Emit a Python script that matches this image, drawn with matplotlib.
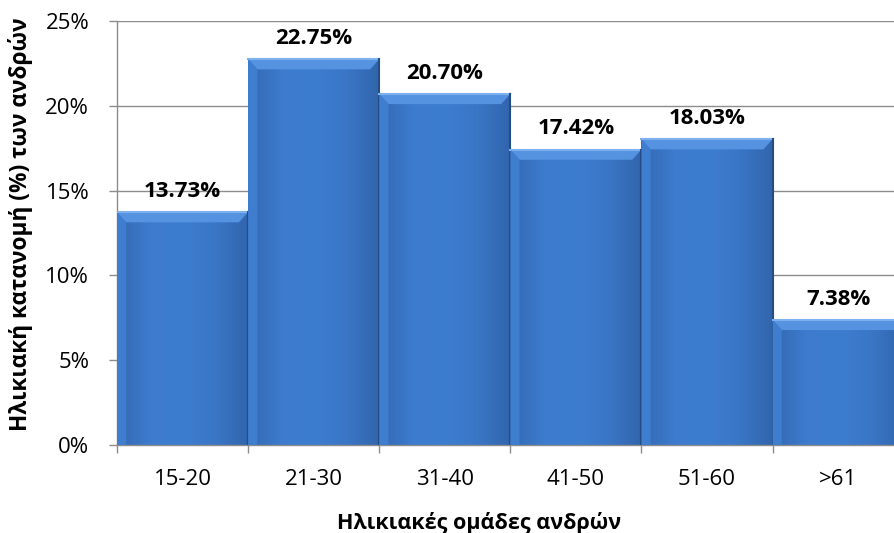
import numpy as np
import matplotlib
matplotlib.use("Agg")
import matplotlib.pyplot as plt
from matplotlib.patches import Polygon
from matplotlib.colors import LinearSegmentedColormap

groups = ["15-20", "21-30", "31-40", "41-50", "51-60", ">61"]
shares = [13.73, 22.75, 20.70, 17.42, 18.03, 7.38]
yticks = [0, 5, 10, 15, 20, 25]

plt.rcParams["font.family"] = ["Open Sans", "Liberation Sans", "DejaVu Sans"]
GRID = "#8c8c8c"

fig = plt.figure(figsize=(8.95, 5.33), dpi=100)
ax = fig.add_axes([0.1307, 0.165, 0.879, 0.7956])

x = np.arange(len(groups))
bars = ax.bar(x, shares, width=1.0, color="#3a77c8", edgecolor="none", zorder=2)

# soft shading across each bar, light bevel on top, dark seam on sides
shade = LinearSegmentedColormap.from_list("shade", ["#3469b3", "#3c7bcd", "#3d7dd0", "#3a76c6", "#3265ad"])
grad = np.linspace(0, 1, 100).reshape(1, -1)
for b in bars:
    x0, w, h = b.get_x(), b.get_width(), b.get_height()
    im = ax.imshow(grad, cmap=shade, extent=(x0, x0 + w, 0, h), aspect="auto", zorder=2)
    im.set_clip_path(b)
    bw = 0.07 * w
    bh = 0.6
    ax.add_patch(Polygon([(x0, h), (x0 + w, h), (x0 + w - bw, h - bh), (x0 + bw, h - bh)],
                         closed=True, color="#5592e0", lw=0, zorder=3))
    ax.add_patch(Polygon([(x0, 0), (x0, h), (x0 + bw, h - bh), (x0 + bw, 0)],
                         closed=True, color="#3f7dcf", lw=0, zorder=3))
    ax.plot([x0, x0 + w], [h, h], color="#7db0ee", lw=1.5, zorder=3)
    ax.plot([x0 + w, x0 + w], [0, h], color="#234d85", lw=1.5, zorder=3)
    ax.annotate(f"{h:.2f}%", xy=(x0 + w / 2, h), xytext=(0, 11), textcoords="offset points",
                ha="center", va="baseline", fontsize=16, fontweight="bold",
                color="black", zorder=4, annotation_clip=False)

ax.set_xlim(-0.5, len(groups) - 0.5)
ax.set_ylim(0, 25)
ax.set_yticks(yticks)
ax.set_yticklabels([f"{v}%" for v in yticks])
ax.yaxis.grid(True, color=GRID, lw=1.0, zorder=0)
ax.set_axisbelow(True)

ax.set_xticks(x)
ax.set_xticklabels(groups)
ax.set_xticks(np.arange(-0.5, len(groups)), minor=True)
ax.tick_params(axis="x", which="major", length=0, pad=17, labelsize=16)
ax.tick_params(axis="x", which="minor", length=6, color=GRID, width=1)
ax.tick_params(axis="y", length=6, color=GRID, width=1, labelsize=16, pad=14)

for s in ["top", "right"]:
    ax.spines[s].set_visible(False)
for s in ["left", "bottom"]:
    ax.spines[s].set_color(GRID)
    ax.spines[s].set_linewidth(1.0)

fig.text(479 / 895, 1 - 523 / 533, "Ηλικιακές ομάδες ανδρών", ha="center", va="center",
         fontsize=15.5, fontweight="bold")
fig.text(21 / 895, 1 - 224 / 533, "Ηλικιακή κατανομή (%) των ανδρών", ha="center", va="center",
         rotation=90, fontsize=16.3, fontweight="bold")

fig.savefig("out.png", dpi=100)
